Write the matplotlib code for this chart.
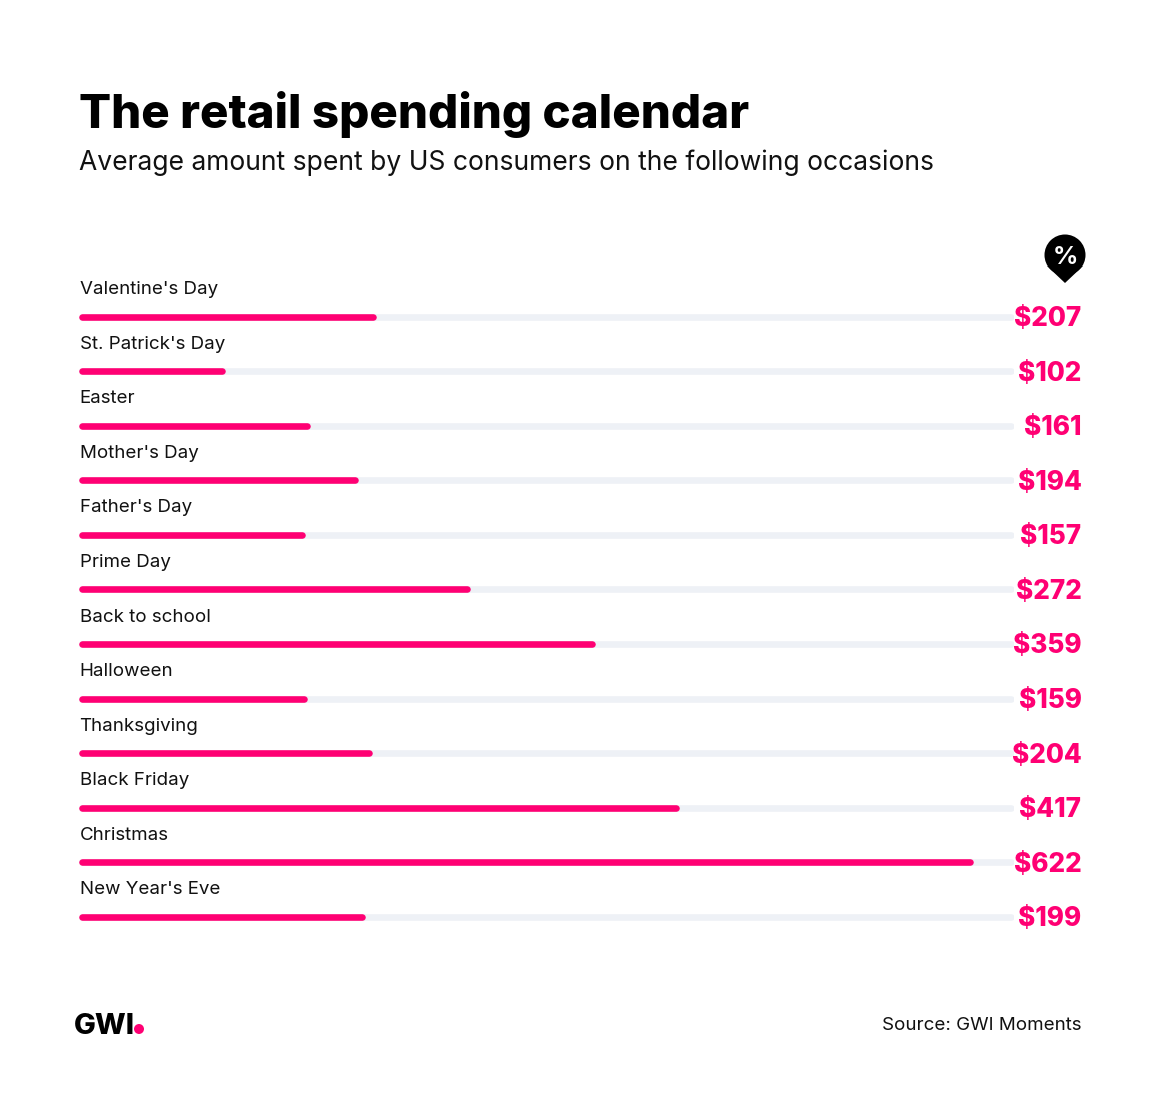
import matplotlib
matplotlib.use("Agg")
import matplotlib.pyplot as plt
from matplotlib.patches import Circle, Polygon

occasions = ["Valentine's Day", "St. Patrick's Day", "Easter", "Mother's Day", "Father's Day",
             "Prime Day", "Back to school", "Halloween", "Thanksgiving", "Black Friday",
             "Christmas", "New Year's Eve"]
spend = [207, 102, 161, 194, 157, 272, 359, 159, 204, 417, 622, 199]
track_max = 650

PINK = "#ff0073"
TRACK = "#eef1f6"
W, H = 1160, 1119
FONT = "Inter"

plt.rcParams["font.family"] = [FONT, "DejaVu Sans"]
fig = plt.figure(figsize=(W / 100, H / 100), dpi=100, facecolor="white")

# bars axes, pixel box worked out from the picture
top, step = 316.7, 54.55
n = len(spend)
x0, x1 = 79, 1014
ax = fig.add_axes([x0 / W, 1 - (top + step * (n - 0.5)) / H, (x1 - x0) / W, step * n / H])
ax.set_xlim(0, track_max)
ax.set_ylim(n - 0.5, -0.5)
ax.axis("off")

cap = 3.3 * track_max / (x1 - x0)
lw = 6.6 * 72 / 100
ys = list(range(n))
ax.hlines(ys, cap, track_max - cap, color=TRACK, lw=lw, capstyle="round")
ax.hlines(ys, cap, [v - cap for v in spend], color=PINK, lw=lw, capstyle="round")

# overlay in pixel coords for the text and logo
ov = fig.add_axes([0, 0, 1, 1], facecolor="none")
ov.set_xlim(0, W)
ov.set_ylim(H, 0)
ov.axis("off")

ov.text(79, 115, "The retail spending calendar", fontsize=34.2, fontweight=800, color="black", va="center")
ov.text(79, 163, "Average amount spent by US consumers on the following occasions", fontsize=19.05,
        color="#111111", va="center")

for i, (name, v) in enumerate(zip(occasions, spend)):
    y = top + step * i
    ov.text(79.5, y - 27, name, fontsize=13.5, color="#111111", va="center")
    ov.text(1081.5, y + 2.5, f"${v}", fontsize=18.8, fontweight=800, color=PINK, va="center", ha="right")

# pin marker
ov.add_patch(Circle((1065, 255), 20.5, color="black", lw=0))
ov.add_patch(Polygon([(1047, 266), (1083, 266), (1065, 283)], color="black", lw=0))
ov.text(1065, 257, "%", fontsize=18, fontweight="bold", color="white", ha="center", va="center")

# footer
ov.text(74, 1026, "GWI", fontsize=21, fontweight=800, color="black", va="center")
ov.add_patch(Circle((139, 1029), 5, color=PINK, lw=0))
ov.text(1081, 1025, "Source: GWI Moments", fontsize=13.5, color="#111111", ha="right", va="center")

fig.savefig("out.png", dpi=100, facecolor="white")
